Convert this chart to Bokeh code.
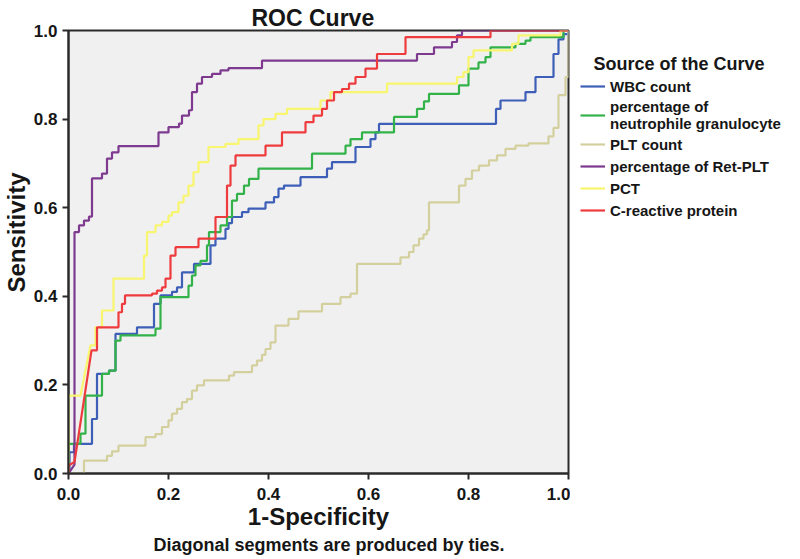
from bokeh.plotting import figure
from bokeh.layouts import row
from bokeh.models import (Legend, LegendItem, Range1d, FixedTicker, NumeralTickFormatter, Title,
                          Label)
from bokeh.embed import file_html
from bokeh.resources import INLINE

# ---------------- data (ROC coordinates) ----------------
series_names = ["WBC count", "percentage of\nneutrophile granulocyte", "PLT count",
                "percentage of Ret-PLT", "PCT", "C-reactive protein"]
series_colors = ["#3E5FB8", "#33B24A", "#D3D09E", "#7E3A8F", "#F8F56E", "#EE3B3E"]
tick_values = [0.0, 0.2, 0.4, 0.6, 0.8, 1.0]

# each curve: explicit start vertices (incl. tie diagonals) + steps (1-specificity, sensitivity)
wbc_head = [(0, 0), (0.002, 0)]
wbc_steps = [(0.002, 0.048), (0.011, 0.067), (0.047, 0.123), (0.057, 0.225), (0.081, 0.232),
             (0.094, 0.315), (0.137, 0.33), (0.171, 0.383), (0.184, 0.402), (0.207, 0.41),
             (0.217, 0.42), (0.227, 0.454), (0.251, 0.473), (0.284, 0.515), (0.294, 0.53),
             (0.314, 0.552), (0.32, 0.565), (0.327, 0.579), (0.347, 0.59), (0.36, 0.598),
             (0.394, 0.612), (0.411, 0.624), (0.42, 0.643), (0.431, 0.65), (0.464, 0.669),
             (0.517, 0.688), (0.527, 0.703), (0.574, 0.737), (0.604, 0.755), (0.614, 0.77),
             (0.621, 0.789), (0.855, 0.823), (0.864, 0.842), (0.914, 0.861), (0.934, 0.895),
             (0.97, 0.947), (0.98, 0.98), (0.99, 0.992), (1.0, 1.0)]

neu_head = [(0, 0)]
neu_steps = [(0, 0.067), (0.024, 0.09), (0.034, 0.176), (0.067, 0.225), (0.081, 0.232),
             (0.094, 0.3), (0.104, 0.312), (0.174, 0.327), (0.184, 0.398), (0.24, 0.424),
             (0.247, 0.447), (0.254, 0.47), (0.264, 0.48), (0.277, 0.515), (0.281, 0.545),
             (0.304, 0.56), (0.317, 0.579), (0.327, 0.616), (0.337, 0.631), (0.351, 0.65),
             (0.361, 0.665), (0.38, 0.688), (0.487, 0.722), (0.554, 0.74), (0.564, 0.755),
             (0.587, 0.77), (0.651, 0.805), (0.697, 0.823), (0.711, 0.84), (0.721, 0.857),
             (0.781, 0.876), (0.8, 0.914), (0.82, 0.928), (0.834, 0.94), (0.844, 0.962),
             (0.894, 0.97), (0.914, 0.977), (0.924, 0.985), (0.99, 1.0), (1.0, 1.0)]

plt_head = [(0, 0)]
plt_steps = [(0.031, 0.029), (0.077, 0.04), (0.087, 0.05), (0.1, 0.063), (0.154, 0.082),
             (0.174, 0.089), (0.187, 0.105), (0.2, 0.12), (0.207, 0.135), (0.217, 0.146),
             (0.227, 0.161), (0.237, 0.168), (0.247, 0.187), (0.257, 0.199), (0.271, 0.21),
             (0.321, 0.221), (0.331, 0.229), (0.367, 0.244), (0.377, 0.255), (0.387, 0.268),
             (0.394, 0.281), (0.404, 0.296), (0.414, 0.334), (0.44, 0.349), (0.46, 0.366),
             (0.507, 0.383), (0.544, 0.398), (0.564, 0.406), (0.577, 0.473), (0.664, 0.488),
             (0.681, 0.5), (0.69, 0.515), (0.701, 0.53), (0.71, 0.54), (0.717, 0.549),
             (0.721, 0.612), (0.781, 0.65), (0.794, 0.665), (0.807, 0.684), (0.821, 0.695),
             (0.841, 0.707), (0.857, 0.718), (0.874, 0.733), (0.894, 0.74), (0.92, 0.745),
             (0.96, 0.761), (0.97, 0.78), (0.98, 0.854), (0.994, 0.895), (1.0, 1.0)]

ret_head = [(0, 0), (0.012, 0.02)]
ret_steps = [(0.012, 0.545), (0.021, 0.56), (0.031, 0.571), (0.041, 0.58), (0.047, 0.666),
             (0.067, 0.677), (0.077, 0.711), (0.087, 0.725), (0.1, 0.739), (0.18, 0.77),
             (0.2, 0.782), (0.221, 0.79), (0.227, 0.808), (0.241, 0.82), (0.247, 0.861),
             (0.257, 0.88), (0.267, 0.895), (0.287, 0.902), (0.304, 0.91), (0.32, 0.915),
             (0.387, 0.932), (0.697, 0.947), (0.731, 0.962), (0.767, 0.974), (0.777, 0.989),
             (0.787, 1.0), (1.0, 1.0)]

pct_head = [(0, 0), (0, 0.176), (0.024, 0.176), (0.044, 0.289)]
pct_steps = [(0.054, 0.33), (0.067, 0.368), (0.09, 0.44), (0.151, 0.492), (0.157, 0.545),
             (0.174, 0.56), (0.187, 0.568), (0.2, 0.582), (0.207, 0.59), (0.22, 0.612),
             (0.23, 0.627), (0.24, 0.65), (0.25, 0.68), (0.26, 0.703), (0.28, 0.737),
             (0.314, 0.744), (0.34, 0.755), (0.38, 0.786), (0.39, 0.8), (0.414, 0.812),
             (0.437, 0.823), (0.504, 0.842), (0.524, 0.861), (0.637, 0.88), (0.777, 0.895),
             (0.79, 0.906), (0.8, 0.94), (0.81, 0.955), (0.887, 0.97), (0.9, 0.989),
             (0.984, 1.0), (1.0, 1.0)]

crp_head = [(0, 0), (0, 0.018), (0.012, 0.026), (0.046, 0.278)]
crp_steps = [(0.057, 0.33), (0.1, 0.364), (0.107, 0.383), (0.113, 0.402), (0.167, 0.406),
             (0.177, 0.413), (0.187, 0.42), (0.194, 0.44), (0.204, 0.492), (0.214, 0.511),
             (0.26, 0.53), (0.294, 0.579), (0.317, 0.65), (0.324, 0.695), (0.334, 0.718),
             (0.394, 0.74), (0.427, 0.77), (0.474, 0.793), (0.49, 0.808), (0.507, 0.823),
             (0.517, 0.842), (0.531, 0.861), (0.547, 0.868), (0.561, 0.88), (0.574, 0.895),
             (0.594, 0.914), (0.617, 0.947), (0.674, 0.985), (0.844, 1.0), (1.0, 1.0)]

curves = [(wbc_head, wbc_steps), (neu_head, neu_steps), (plt_head, plt_steps),
          (ret_head, ret_steps), (pct_head, pct_steps), (crp_head, crp_steps)]


def stairs(head, steps):
    pts = list(head)
    for x, y in steps:
        pts.append((x, pts[-1][1]))
        pts.append((x, y))
    return [q[0] for q in pts], [q[1] for q in pts]


# ---------------- main figure ----------------
FONT = "Liberation Sans"
TXT = "#161616"

p = figure(width=570, height=559, x_range=Range1d(0, 1), y_range=Range1d(0, 1),
           output_backend="svg", toolbar_location=None,
           min_border_left=68, min_border_right=2, min_border_top=30, min_border_bottom=86)
p.background_fill_color = "#F0F0F0"
p.border_fill_color = "white"
p.outline_line_color = "#2a2a2a"
p.outline_line_width = 2
p.grid.visible = False

p.title.text = "ROC Curve"
p.title.align = "left"
p.title.offset = 183
p.title.standoff = 0
p.title.text_font = FONT
p.title.text_font_style = "bold"
p.title.text_font_size = "23px"
p.title.text_color = TXT

for ax in (p.xaxis[0], p.yaxis[0]):
    ax.ticker = FixedTicker(ticks=tick_values)
    ax.formatter = NumeralTickFormatter(format="0.0")
    ax.minor_tick_line_color = None
    ax.major_tick_out = 6
    ax.major_tick_in = 0
    ax.axis_line_color = "#2a2a2a"
    ax.axis_line_width = 2
    ax.major_tick_line_color = "#2a2a2a"
    ax.major_tick_line_width = 2
    ax.major_label_text_font = FONT
    ax.major_label_text_font_style = "bold"
    ax.major_label_text_font_size = "17px"
    ax.major_label_text_color = TXT
p.xaxis.major_label_standoff = 8
p.yaxis.major_label_standoff = 5

p.xaxis.axis_label = "1-Specificity"
p.xaxis.axis_label_standoff = 0
p.xaxis.axis_label_text_font = FONT
p.xaxis.axis_label_text_font_style = "bold"
p.xaxis.axis_label_text_font_size = "24px"
p.xaxis.axis_label_text_color = TXT

caption = Title(text="Diagonal segments are produced by ties.", align="left", offset=85,
                standoff=0, text_font=FONT, text_font_style="bold", text_font_size="18px",
                text_color=TXT)
p.add_layout(caption, "below")

ylab = Title(text="Sensitivity", align="left", offset=181, standoff=1, text_font=FONT,
             text_font_style="bold", text_font_size="24px", text_color=TXT)
p.add_layout(ylab, "left")

curve_xy = []
for (head, steps), col in zip(curves, series_colors):
    xs, ys = stairs(head, steps)
    curve_xy.append((xs, ys))
    p.line(xs, ys, line_color=col, line_width=2.2)

# ---------------- legend panel (its frame is aligned with the main frame: y 30..473) ----------------
q = figure(width=230, height=559, x_range=Range1d(0, 1), y_range=Range1d(0, 1),
           output_backend="svg", toolbar_location=None, min_border=0)
q.axis.visible = False
q.grid.visible = False
q.outline_line_color = None
q.background_fill_color = "white"
q.border_fill_color = "white"

# key renderers: a single (invisible, one-vertex) point of each curve, only used for the legend keys
key_renderers = [q.line(x=xs[:1], y=ys[:1], line_color=col, line_width=2.2)
                 for (xs, ys), col in zip(curve_xy, series_colors)]
legend = Legend(items=[LegendItem(label=n, renderers=[r])
                       for n, r in zip(series_names, key_renderers)],
                location=(10, 253))
legend.label_text_font = FONT
legend.label_text_font_style = "bold"
legend.label_text_font_size = "15px"
legend.label_text_color = TXT
legend.label_height = 20
legend.glyph_height = 20
legend.glyph_width = 25
legend.label_standoff = 5
legend.spacing = 2
legend.padding = 0
legend.margin = 0
legend.border_line_alpha = 0
legend.background_fill_alpha = 0
q.add_layout(legend)

q.add_layout(Label(x=23, y=410, x_units="screen", y_units="screen", text="Source of the Curve",
                   text_font=FONT, text_font_style="bold", text_font_size="18px",
                   text_color=TXT, text_align="left", text_baseline="middle"))

layout = row(p, q)
open("out.html", "w").write(file_html(layout, INLINE))
